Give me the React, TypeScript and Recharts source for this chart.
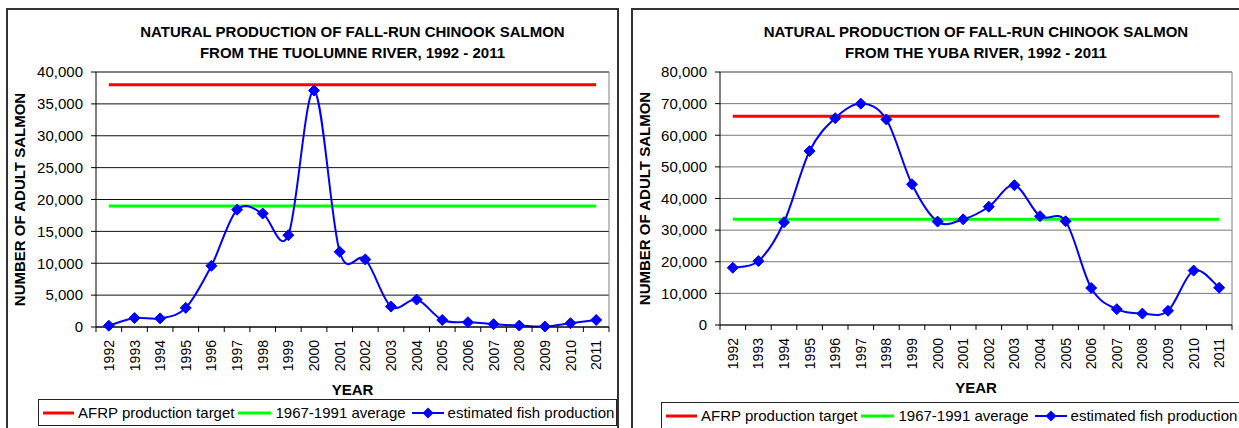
import React from "react";
import { LineChart, Line, XAxis, YAxis, CartesianGrid, Legend, Label } from "recharts";

const years = [
  "1992", "1993", "1994", "1995", "1996", "1997", "1998", "1999", "2000", "2001",
  "2002", "2003", "2004", "2005", "2006", "2007", "2008", "2009", "2010", "2011",
];

// Tuolumne River
const tuolumneProduction = [
  200, 1400, 1350, 3000, 9600, 18400, 17800, 14400, 37100, 11800,
  10600, 3200, 4300, 1100, 750, 440, 220, 80, 600, 1100,
];
const tuolumneTarget = 38000;
const tuolumneAverage = 19000;
const tuolumneTicks = [0, 5000, 10000, 15000, 20000, 25000, 30000, 35000, 40000];

// Yuba River
const yubaProduction = [
  18100, 20200, 32500, 55000, 65400, 70000, 65000, 44500, 32700, 33400,
  37400, 44200, 34400, 32800, 11700, 5000, 3600, 4500, 17200, 11800,
];
const yubaTarget = 66000;
const yubaAverage = 33400;
const yubaTicks = [0, 10000, 20000, 30000, 40000, 50000, 60000, 70000, 80000];

const FONT = "'Liberation Sans', Arial, Helvetica, sans-serif";

// Excel-like smoothed line (Catmull-Rom as cubic bezier)
const excelSmooth = (context: any) => {
  let pts: [number, number][] = [];
  return {
    areaStart() {},
    areaEnd() {},
    lineStart() {
      pts = [];
    },
    lineEnd() {
      const n = pts.length;
      if (!n) return;
      context.moveTo(pts[0][0], pts[0][1]);
      for (let i = 0; i < n - 1; i++) {
        const p0 = pts[Math.max(i - 1, 0)];
        const p1 = pts[i];
        const p2 = pts[i + 1];
        const p3 = pts[Math.min(i + 2, n - 1)];
        context.bezierCurveTo(
          p1[0] + (p2[0] - p0[0]) / 6,
          p1[1] + (p2[1] - p0[1]) / 6,
          p2[0] - (p3[0] - p1[0]) / 6,
          p2[1] - (p3[1] - p1[1]) / 6,
          p2[0],
          p2[1]
        );
      }
    },
    point(x: number, y: number) {
      pts.push([+x, +y]);
    },
  };
};

const Diamond = (props: any) => {
  const { cx, cy } = props;
  if (cx == null || cy == null) return null;
  const r = 5.5;
  return (
    <path
      d={`M${cx},${cy - r}L${cx + r},${cy}L${cx},${cy + r}L${cx - r},${cy}Z`}
      fill="#0000FF"
      stroke="#0000FF"
    />
  );
};

const YearTick = (props: any) => {
  const { x, y, payload, index, visibleTicksCount } = props;
  const half = payload && payload.offset ? payload.offset : 12.8;
  const last = index === visibleTicksCount - 1;
  return (
    <g>
      <line x1={x - half} x2={x - half} y1={y} y2={y + 5} stroke="#000" />
      {last && <line x1={x + half} x2={x + half} y1={y} y2={y + 5} stroke="#000" />}
      <text
        x={x}
        y={y + 13}
        dy="0.36em"
        textAnchor="end"
        transform={`rotate(-90, ${x}, ${y + 13})`}
        fill="#000"
        fontSize={14}
        fontFamily={FONT}
      >
        {payload.value}
      </text>
    </g>
  );
};

const LegendBox = ({ width }: { width: number }) => (
  <div
    style={{
      width,
      height: 27,
      boxSizing: "border-box",
      border: "1px solid #222",
      display: "flex",
      alignItems: "center",
      paddingLeft: 4,
      fontFamily: FONT,
      fontSize: 15,
      color: "#000",
      whiteSpace: "nowrap",
      background: "#fff",
    }}
  >
    <svg width={31} height={8}>
      <line x1={0} x2={31} y1={4} y2={4} stroke="#FF0000" strokeWidth={3} />
    </svg>
    <span style={{ marginLeft: 4, marginRight: 4 }}>AFRP production target</span>
    <svg width={33} height={8}>
      <line x1={0} x2={33} y1={4} y2={4} stroke="#00FF00" strokeWidth={3} />
    </svg>
    <span style={{ marginLeft: 4, marginRight: 6 }}>1967-1991 average</span>
    <svg width={32} height={12}>
      <line x1={0} x2={32} y1={6} y2={6} stroke="#0000FF" strokeWidth={2} />
      <path d="M16,0.5L21.5,6L16,11.5L10.5,6Z" fill="#0000FF" />
    </svg>
    <span style={{ marginLeft: 4 }}>estimated fish production</span>
  </div>
);

interface RiverChartProps {
  left: number;
  title: string;
  production: number[];
  target: number;
  average: number;
  ticks: number[];
  width: number;
  yAxisWidth: number;
  marginRight: number;
  marginBottom: number;
  gridColor: string;
  legendLeft: number;
  legendTop: number;
  legendWidth: number;
}

const RiverChart = (p: RiverChartProps) => {
  const data = years.map((year, i) => ({
    year,
    production: p.production[i],
    target: p.target,
    average: p.average,
  }));
  const height = 420;
  const plotLeft = p.yAxisWidth;
  const plotWidth = p.width - p.yAxisWidth - p.marginRight;
  return (
    <div style={{ position: "absolute", left: p.left, top: 8, width: p.width, height: 440 }}>
      <div
        style={{
          position: "absolute",
          left: 0,
          top: 0,
          width: p.width,
          height: 440,
          boxSizing: "border-box",
          border: "2px solid #333",
        }}
      />
      <div
        style={{
          position: "absolute",
          left: plotLeft,
          top: 14,
          width: plotWidth,
          textAlign: "center",
          fontFamily: FONT,
          fontWeight: "bold",
          fontSize: 15,
          lineHeight: "20.5px",
          color: "#000",
          whiteSpace: "pre",
        }}
      >
        {p.title}
      </div>
      <div style={{ position: "absolute", left: 0, top: 0 }}>
        <LineChart
          width={p.width}
          height={height}
          data={data}
          margin={{ top: 64, right: p.marginRight, left: 0, bottom: p.marginBottom }}
          style={{ fontFamily: FONT }}
        >
          <CartesianGrid vertical={false} stroke={p.gridColor} strokeWidth={1} />
          <CartesianGrid
            stroke="#808080"
            verticalCoordinatesGenerator={({ offset }: any) => [offset.left + offset.width]}
            horizontalCoordinatesGenerator={({ offset }: any) => [offset.top]}
          />
          <XAxis
            dataKey="year"
            scale="band"
            interval={0}
            tickLine={false}
            tickSize={0}
            tickMargin={0}
            height={60}
            axisLine={{ stroke: "#000" }}
            tick={<YearTick />}
          >
            <Label
              content={({ viewBox }: any) => (
                <text
                  x={viewBox.x + viewBox.width / 2}
                  y={viewBox.y + 68}
                  textAnchor="middle"
                  fontWeight="bold"
                  fontSize={15}
                  fontFamily={FONT}
                  fill="#000"
                >
                  YEAR
                </text>
              )}
            />
          </XAxis>
          <YAxis
            domain={[0, p.ticks[p.ticks.length - 1]]}
            ticks={p.ticks}
            interval={0}
            width={p.yAxisWidth}
            tickSize={5}
            tickMargin={8}
            axisLine={{ stroke: "#000" }}
            tickLine={{ stroke: "#000" }}
            tick={{ fill: "#000", fontSize: 15, fontFamily: FONT }}
            tickFormatter={(v: number) => v.toLocaleString("en-US")}
          >
            <Label
              content={({ viewBox }: any) => {
                const cx = viewBox.x + 14;
                const cy = viewBox.y + viewBox.height / 2;
                return (
                  <text
                    x={cx}
                    y={cy}
                    dy="0.36em"
                    textAnchor="middle"
                    transform={`rotate(-90, ${cx}, ${cy})`}
                    fontWeight="bold"
                    fontSize={15}
                    fontFamily={FONT}
                    fill="#000"
                  >
                    NUMBER OF ADULT SALMON
                  </text>
                );
              }}
            />
          </YAxis>
          <Line
            dataKey="target"
            name="AFRP production target"
            stroke="#FF0000"
            strokeWidth={3}
            dot={false}
            activeDot={false}
            isAnimationActive={false}
          />
          <Line
            dataKey="average"
            name="1967-1991 average"
            stroke="#00FF00"
            strokeWidth={3}
            dot={false}
            activeDot={false}
            isAnimationActive={false}
          />
          <Line
            dataKey="production"
            name="estimated fish production"
            type={excelSmooth as any}
            stroke="#0000FF"
            strokeWidth={2}
            dot={<Diamond />}
            activeDot={false}
            isAnimationActive={false}
          />
          <Legend
            layout="horizontal"
            verticalAlign="middle"
            align="center"
            wrapperStyle={{ left: p.legendLeft, top: p.legendTop, width: p.legendWidth }}
            content={() => <LegendBox width={p.legendWidth} />}
          />
        </LineChart>
      </div>
    </div>
  );
};

export default function App() {
  return (
    <div
      style={{
        position: "absolute",
        left: 0,
        top: 0,
        width: 1239,
        height: 428,
        overflow: "hidden",
        background: "#fff",
      }}
    >
      <RiverChart
        left={6}
        title={"NATURAL PRODUCTION OF FALL-RUN CHINOOK SALMON\nFROM THE TUOLUMNE RIVER, 1992 - 2011"}
        production={tuolumneProduction}
        target={tuolumneTarget}
        average={tuolumneAverage}
        ticks={tuolumneTicks}
        width={613}
        yAxisWidth={90}
        marginRight={10}
        marginBottom={41}
        gridColor="#111"
        legendLeft={32}
        legendTop={391}
        legendWidth={579}
      />
      <RiverChart
        left={631}
        title={"NATURAL PRODUCTION OF FALL-RUN CHINOOK SALMON\nFROM THE YUBA RIVER, 1992 - 2011"}
        production={yubaProduction}
        target={yubaTarget}
        average={yubaAverage}
        ticks={yubaTicks}
        width={615}
        yAxisWidth={89}
        marginRight={14}
        marginBottom={43}
        gridColor="#777"
        legendLeft={30}
        legendTop={394}
        legendWidth={600}
      />
    </div>
  );
}
